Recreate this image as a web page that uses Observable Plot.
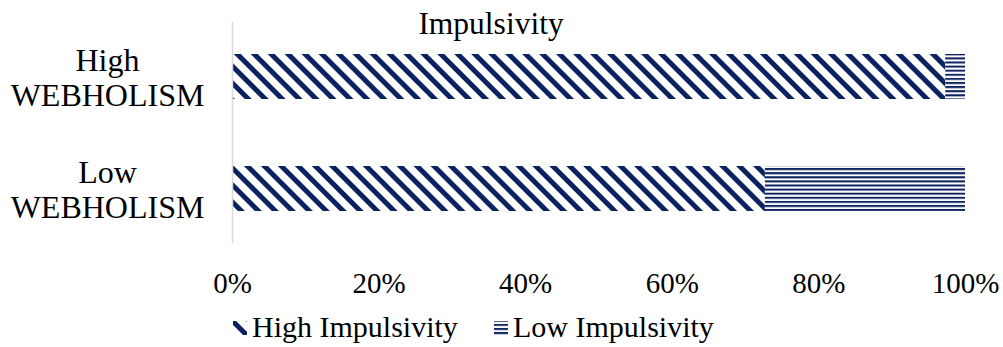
<!DOCTYPE html>
<html>
<head>
<meta charset="utf-8">
<script src="https://cdn.jsdelivr.net/npm/d3@7"></script>
<script src="https://cdn.jsdelivr.net/npm/@observablehq/plot@0.6"></script>
<style>
  html, body { margin: 0; padding: 0; background: #fff; }
  #chart { width: 1003px; height: 347px; }
  #chart svg { display: block; }
</style>
</head>
<body>
<div id="chart"></div>
<script>
// Share of respondents by impulsivity level within each webholism group (%)
const categories = ["High\nWEBHOLISM", "Low\nWEBHOLISM"];
const seriesNames = ["High Impulsivity", "Low Impulsivity"];
const highImpulsivity = [97.3, 72.7];
const lowImpulsivity = [2.7, 27.3];
const xTicks = [0, 20, 40, 60, 80, 100];
const title = "Impulsivity";

const navy = "#0b2160";
const serif = "Liberation Serif";
const fillFor = ["url(#stripe-diag)", "url(#stripe-horiz)"];

const rows = categories.flatMap((category, i) => [
  {category, series: seriesNames[0], value: highImpulsivity[i]},
  {category, series: seriesNames[1], value: lowImpulsivity[i]}
]);

const chart = Plot.plot({
  width: 1003,
  height: 347,
  marginLeft: 232,
  marginRight: 38,
  marginTop: 22,
  marginBottom: 104,
  style: "background: #fff; color: #000; font-family: 'Liberation Serif', serif;",
  x: {domain: [0, 100], label: null},
  y: {domain: categories, paddingInner: 0.6, paddingOuter: 0.282, axis: null},
  color: {domain: seriesNames, range: fillFor},
  marks: [
    Plot.barX(rows, Plot.stackX({x: "value", y: "category", fill: "series"})),
    Plot.ruleX([0], {stroke: "#d9d9d9", strokeWidth: 1.5}),
    Plot.axisX({
      ticks: xTicks,
      tickFormat: d => d + "%",
      tickSize: 0,
      tickPadding: 29,
      fontSize: 29,
      fontFamily: serif,
      fill: "#000",
      label: null
    }),
    Plot.text(categories, {
      y: d => d,
      text: d => d,
      frameAnchor: "left",
      dx: -125,
      textAnchor: "middle",
      lineHeight: 1.1,
      fontSize: 32,
      fontFamily: serif,
      fill: "#000"
    }),
    Plot.text([title], {
      frameAnchor: "top",
      dx: -108,
      dy: 11,
      lineAnchor: "bottom",
      fontSize: 31.5,
      fontFamily: serif,
      fill: "#000"
    })
  ]
});

// Hatch patterns used by the bar fills and legend swatches
const svg = d3.select(chart);
const defs = svg.insert("defs", ":first-child");
defs.append("pattern")
  .attr("id", "stripe-diag")
  .attr("patternUnits", "userSpaceOnUse")
  .attr("width", 12).attr("height", 12)
  .attr("patternTransform", "rotate(45)")
  .call(p => p.append("rect").attr("width", 12).attr("height", 12).attr("fill", "#fff"))
  .call(p => p.append("rect").attr("y", 0).attr("width", 12).attr("height", 5).attr("fill", navy));
defs.append("pattern")
  .attr("id", "stripe-horiz")
  .attr("patternUnits", "userSpaceOnUse")
  .attr("width", 8).attr("height", 4.1)
  .call(p => p.append("rect").attr("width", 8).attr("height", 4.1).attr("fill", "#fff"))
  .call(p => p.append("rect").attr("y", 0).attr("width", 8).attr("height", 2).attr("fill", navy));

// Legend below the axis
const legend = svg.append("g")
  .attr("font-size", 30)
  .attr("font-family", serif)
  .attr("text-anchor", "start");
const legendItems = [
  {name: seriesNames[0], fill: fillFor[0], x: 233},
  {name: seriesNames[1], fill: fillFor[1], x: 494}
];
legendItems.forEach(item => {
  legend.append("rect")
    .attr("x", item.x).attr("y", 321)
    .attr("width", 14).attr("height", 14)
    .attr("fill", item.fill);
  legend.append("text")
    .attr("x", item.x + 19).attr("y", 337)
    .attr("fill", "#000")
    .text(item.name);
});

document.getElementById("chart").append(chart);
</script>
</body>
</html>
